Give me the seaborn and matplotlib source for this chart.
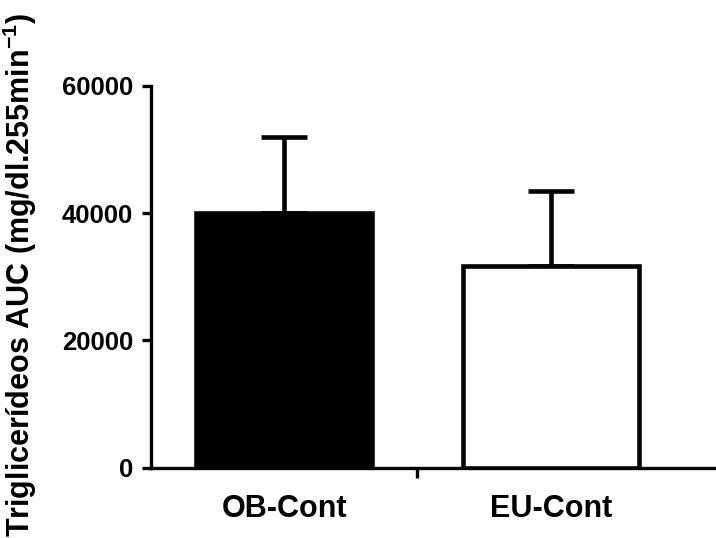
import matplotlib
matplotlib.use("Agg")
import matplotlib.pyplot as plt
import seaborn as sns
import pandas as pd
import numpy as np

# Data
categories = ["OB-Cont", "EU-Cont"]
means = [40000, 31700]
errors = [12000, 11700]
fills = ["#000000", "#ffffff"]
y_ticks = [0, 20000, 40000, 60000]
y_label = r"Triglicerídeos AUC (mg/dl.255min$^{\mathbf{-1}}$)"

sns.set_theme(style="white")
plt.rcParams["font.family"] = ["Liberation Sans", "DejaVu Sans"]
plt.rcParams["font.weight"] = "bold"
plt.rcParams["mathtext.fontset"] = "custom"
plt.rcParams["mathtext.rm"] = "Liberation Sans:bold"
plt.rcParams["mathtext.bf"] = "Liberation Sans:bold"
plt.rcParams["mathtext.default"] = "bf"

W, H = 716, 538
fig = plt.figure(figsize=(W / 100, H / 100), dpi=100)
left, right, top, bottom = 150.7, 716, 85.7, 467.7
ax = fig.add_axes([left / W, 1 - bottom / H, (right - left) / W, (bottom - top) / H])

axis_lw = 2.4
mark_lw = 3.3
df = pd.DataFrame({"group": categories, "value": means})
sns.barplot(data=df, x="group", y="value", hue="group", palette=fills,
            order=categories, hue_order=categories, legend=False,
            width=0.66, edgecolor="black", linewidth=mark_lw, errorbar=None,
            ax=ax, zorder=3)

xs = np.arange(len(categories))
ax.errorbar(xs, means, yerr=[np.zeros(len(means)), errors], fmt="none",
            ecolor="black", elinewidth=mark_lw, capsize=16.5, capthick=mark_lw, zorder=2)

ax.set_xlim(-0.5, 1.62)
ax.set_ylim(0, 60000)
ax.set_yticks(y_ticks)
ax.set_yticklabels([str(t) for t in y_ticks], fontsize=18.5, fontweight="bold")
ax.set_xticks(xs)
ax.set_xticklabels(categories, fontsize=22, fontweight="bold")
ax.set_xticks([0.5], minor=True)
ax.tick_params(axis="x", which="major", length=0, pad=19, colors="black")
ax.tick_params(axis="x", which="minor", bottom=True, length=7, width=axis_lw, color="black")
ax.tick_params(axis="y", which="major", left=True, length=6.5, width=axis_lw, pad=6, colors="black")

for s in ["top", "right"]:
    ax.spines[s].set_visible(False)
for s in ["left", "bottom"]:
    ax.spines[s].set_linewidth(axis_lw)
    ax.spines[s].set_color("black")

ax.set_xlabel("")
ax.set_ylabel(y_label, fontsize=22, fontweight="bold", color="black")
ax.yaxis.set_label_coords(-0.197, 0.505)

fig.savefig("out.png", dpi=100)
